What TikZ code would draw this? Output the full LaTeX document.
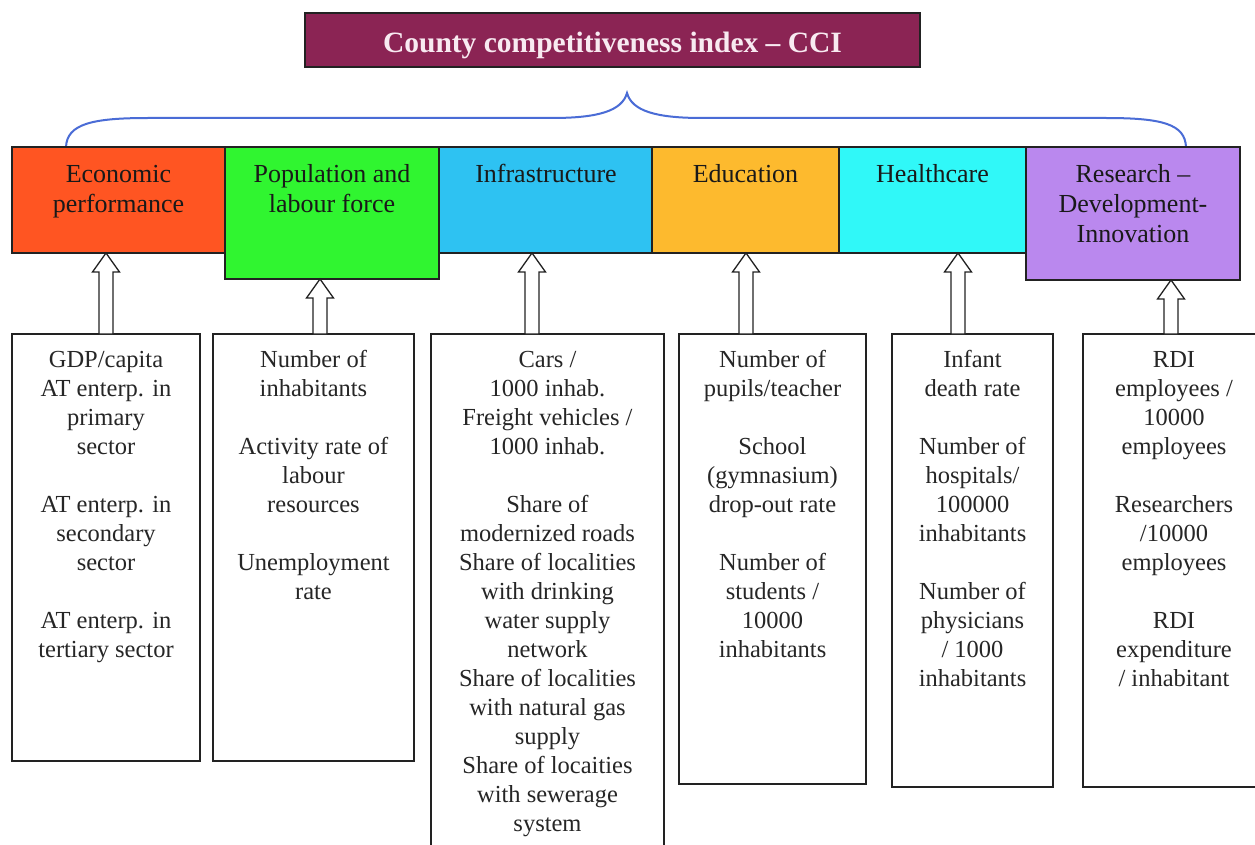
\documentclass[tikz,border=0pt]{standalone}
\usepackage{fontspec}
\setmainfont{Liberation Serif}
\usetikzlibrary{calc}
\definecolor{cTitle}{HTML}{8B2454}
\definecolor{cTitleText}{HTML}{F8EAF1}
\definecolor{cEcon}{HTML}{FF5522}
\definecolor{cPop}{HTML}{30F530}
\definecolor{cInfra}{HTML}{2EC2F2}
\definecolor{cEdu}{HTML}{FDBA2E}
\definecolor{cHealth}{HTML}{30F8F8}
\definecolor{cRdi}{HTML}{BA88EE}
\definecolor{cBrace}{HTML}{4A6CD6}
\definecolor{cLine}{HTML}{222222}
\begin{document}
\begin{tikzpicture}[x=1pt,y=-1pt,
  boxbase/.style={draw=cLine, line width=1.8pt, anchor=north west, inner sep=0pt, outer sep=0pt},
  catbox/.style={boxbase},
  indbox/.style={boxbase, fill=white},
  cattext/.style={anchor=north, align=center, inner sep=0pt, text=black!90, font=\fontsize{26}{30}\selectfont},
  indtext/.style={anchor=north, align=center, inner sep=0pt, text=black!85, font=\fontsize{24.5}{29}\selectfont},
  blockarr/.style={draw=cLine, line width=1.3pt, fill=white, line join=miter},
  bracestyle/.style={draw=cBrace, line width=2pt}
]
\clip (0,0) rectangle (1255,845);
\fill[white] (0,0) rectangle (1255,845);

% title
\node[boxbase, fill=cTitle, minimum width=615pt, minimum height=54pt] (title) at (305,13) {};
\node[anchor=base, inner sep=0pt, text=cTitleText, font=\bfseries\fontsize{29.5}{34}\selectfont] (titletext) at (612.5,53) {County competitiveness index – CCI};

% brace
\coordinate (bl) at (66,147);
\coordinate (bp) at (627,93);
\coordinate (br) at (1186,147);
\draw[bracestyle] (bl) .. controls (67,124) and (92,118) .. (148,118) -- (552,118)
  .. controls (598,118) and (622,111) .. (bp)
  .. controls (632,111) and (656,118) .. (702,118) -- (1106,118)
  .. controls (1162,118) and (1185,124) .. (br);

% category boxes
\node[catbox, fill=cEcon,   minimum width=213pt, minimum height=106pt] (econ)   at (12,147) {};
\node[catbox, fill=cInfra,  minimum width=213pt, minimum height=106pt] (infra)  at (439,147) {};
\node[catbox, fill=cEdu,    minimum width=187pt, minimum height=106pt] (edu)    at (652,147) {};
\node[catbox, fill=cHealth, minimum width=187pt, minimum height=106pt] (health) at (839,147) {};
\node[catbox, fill=cPop,    minimum width=214pt, minimum height=132pt] (pop)    at (225,147) {};
\node[catbox, fill=cRdi,    minimum width=214pt, minimum height=133pt] (rdi)    at (1026,147) {};

\node[cattext] (econT)   at (118.5,161) {\strut Economic\\performance};
\node[cattext] (popT)    at (332,161)   {\strut Population and\\labour force};
\node[cattext] (infraT)  at (546,161)   {\strut Infrastructure};
\node[cattext] (eduT)    at (745.5,161) {\strut Education};
\node[cattext] (healthT) at (932.5,161) {\strut Healthcare};
\node[cattext] (rdiT)    at (1133,161)  {\strut Research –\\Development-\\Innovation};

% indicator boxes
\node[indbox, minimum width=188pt, minimum height=427pt] (b1) at (12,334) {};
\node[indbox, minimum width=201pt, minimum height=427pt] (b2) at (213,334) {};
\node[indbox, minimum width=233pt, minimum height=530pt] (b3) at (431,334) {};
\node[indbox, minimum width=187pt, minimum height=450pt] (b4) at (679,334) {};
\node[indbox, minimum width=161pt, minimum height=453pt] (b5) at (892,334) {};
\node[indbox, minimum width=185pt, minimum height=453pt] (b6) at (1083,334) {};

\node[indtext] (b1T) at (106,346.7) {\strut GDP/capita\\AT enterp. in\\primary\\sector\\[29pt]AT enterp. in\\secondary\\sector\\[29pt]AT enterp. in\\tertiary sector};
\node[indtext] (b2T) at (313.5,346.7) {\strut Number of\\inhabitants\\[29pt]Activity rate of\\labour\\resources\\[29pt]Unemployment\\rate};
\node[indtext] (b3T) at (547.5,346.7) {\strut Cars /\\1000 inhab.\\Freight vehicles /\\1000 inhab.\\[29pt]Share of\\modernized roads\\Share of localities\\with drinking\\water supply\\network\\Share of localities\\with natural gas\\supply\\Share of locaities\\with sewerage\\system};
\node[indtext] (b4T) at (772.5,346.7) {\strut Number of\\pupils/teacher\\[29pt]School\\(gymnasium)\\drop-out rate\\[29pt]Number of\\students /\\10000\\inhabitants};
\node[indtext] (b5T) at (972.5,346.7) {\strut Infant\\death rate\\[29pt]Number of\\hospitals/\\100000\\inhabitants\\[29pt]Number of\\physicians\\/ 1000\\inhabitants};
\node[indtext] (b6T) at (1174,346.7) {\strut RDI\\employees /\\10000\\employees\\[29pt]Researchers\\/10000\\employees\\[29pt]RDI\\expenditure\\/ inhabitant};

% block arrows
\coordinate (a1) at (106,334);
\coordinate (a2) at (320,334);
\coordinate (a3) at (532,334);
\coordinate (a4) at (746,334);
\coordinate (a5) at (958,334);
\coordinate (a6) at (1171,334);
\foreach \a/\c in {a1/econ,a2/pop,a3/infra,a4/edu,a5/health,a6/rdi}{
  \draw[blockarr] let \p1=(\a), \p2=(\a |- \c.south) in
    (\x1-7pt,\y1) -- (\x1-7pt,\y2-19pt) -- (\x1-13.5pt,\y2-19pt) -- (\x1,\y2)
    -- (\x1+13.5pt,\y2-19pt) -- (\x1+7pt,\y2-19pt) -- (\x1+7pt,\y1) -- cycle;
}
\end{tikzpicture}
\end{document}
